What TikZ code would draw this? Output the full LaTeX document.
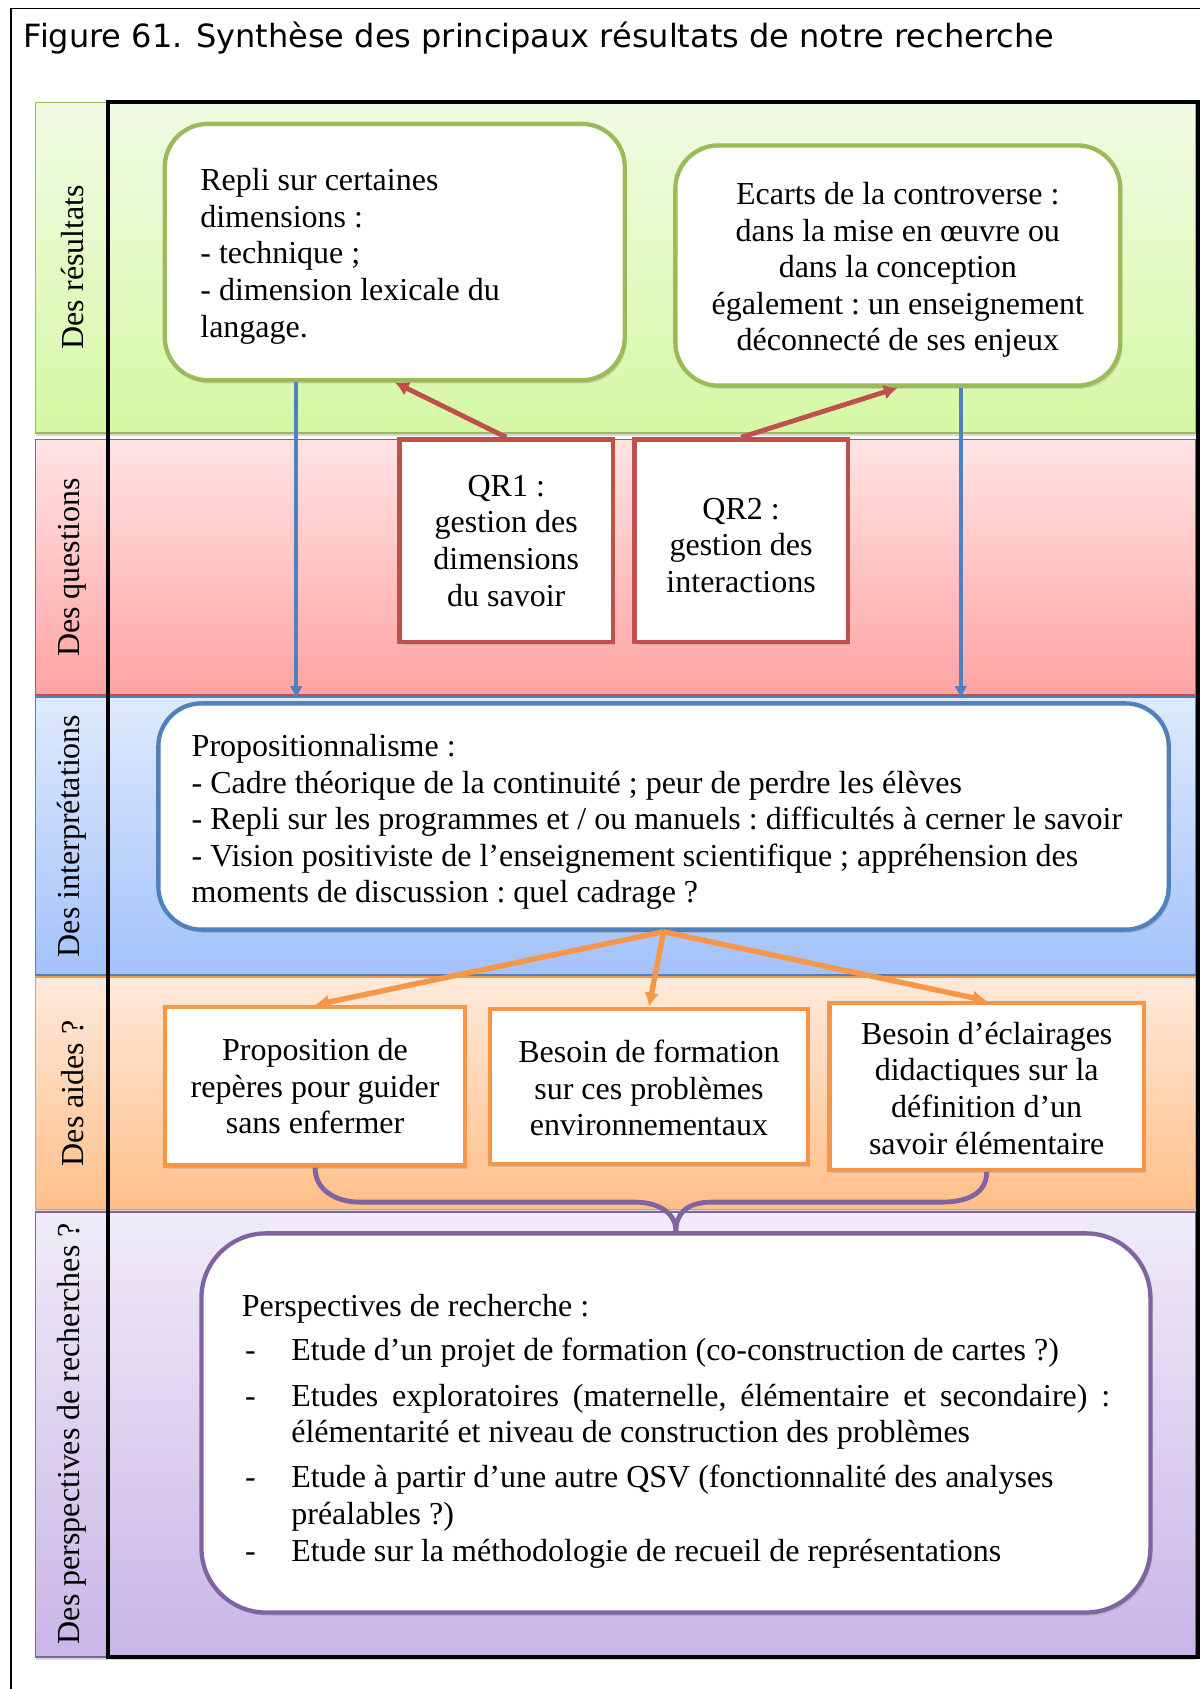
\documentclass[tikz,border=0pt]{standalone}
\usepackage{fontspec}
\setmainfont{Liberation Serif}
\newfontfamily\titlefont{DejaVu Sans}
\usepackage{xcolor}
\usepackage{tikz}
\usetikzlibrary{arrows.meta,positioning,calc,shadows}
\definecolor{grnline}{HTML}{9BBB59}
\definecolor{grntop}{HTML}{F1FBE4}
\definecolor{grnbot}{HTML}{D5F8A4}
\definecolor{redline}{HTML}{C0504D}
\definecolor{redtop}{HTML}{FFE4E4}
\definecolor{redbot}{HTML}{FFA3A3}
\definecolor{bluline}{HTML}{4F81BD}
\definecolor{blutop}{HTML}{DFEAFC}
\definecolor{blubot}{HTML}{A3C2FB}
\definecolor{orgline}{HTML}{F79646}
\definecolor{orgtop}{HTML}{FFEADC}
\definecolor{orgbot}{HTML}{FFBF89}
\definecolor{purline}{HTML}{8064A2}
\definecolor{purtop}{HTML}{F0ECF8}
\definecolor{purbot}{HTML}{C9B5E7}
\newcommand{\lift}[1]{\rule{0pt}{#1}}
\tikzset{
    band/.style={draw=#1line, line width=1.5pt, top color=#1top, bottom color=#1bot,
                 drop shadow={opacity=0.3, shadow xshift=0pt, shadow yshift=-3pt}},
    txt/.style={font=\fontsize{29.7}{34}\selectfont\frenchspacing},
    lbl/.style={txt, rotate=90, inner sep=0pt},
    boxshadow/.style={drop shadow={opacity=0.25, shadow xshift=2pt, shadow yshift=-3pt}},
    resbox/.style={rectangle, draw=grnline, line width=4pt, fill=white, rounded corners=40pt,
                   inner sep=0pt, txt, boxshadow},
    qbox/.style={rectangle, draw=redline, line width=4pt, fill=white, inner sep=0pt,
                 align=center, txt, minimum width=198pt, minimum height=188pt, boxshadow},
    ibox/.style={rectangle, draw=bluline, line width=4pt, fill=white, rounded corners=40pt,
                 inner sep=0pt, txt, boxshadow},
    abox/.style={rectangle, draw=orgline, line width=4pt, fill=white, inner sep=0pt,
                 align=center, txt, boxshadow},
    pbox/.style={rectangle, draw=purline, line width=4pt, fill=white, rounded corners=60pt,
                 inner sep=0pt, txt, boxshadow},
    bluarr/.style={draw=bluline, line width=4pt, -{Latex[length=12pt, width=12pt]}, shorten >=2pt},
    redarr/.style={draw=redline, line width=4.5pt, -{Latex[length=13pt, width=14pt]}},
    orgarr/.style={draw=orgline, line width=5pt, -{Latex[length=13pt, width=14pt]}},
    brace/.style={draw=purline, line width=4.5pt},
}
\begin{document}
\begin{tikzpicture}[x=1pt, y=-1pt]
    \fill[white] (0,0) rectangle (1114,1568);
    \useasboundingbox (0,0) rectangle (1114,1568);
    \draw[line width=1.5pt] (10,1568) -- (10,8) -- (1114,8);
    \node[anchor=base west, inner sep=0pt, font=\titlefont\fontsize{29.7}{34}\selectfont] (titre) at (22,44)
        {Figure 61. Synthèse des principaux résultats de notre recherche};

    \path[band=grn] (33,95) rectangle (1110,402);
    \path[band=red] (33,408) rectangle (1110,645);
    \path[band=blu] (33,647) rectangle (1110,905);
    \path[band=org] (33,907) rectangle (1110,1123);
    \path[band=pur] (33,1125) rectangle (1110,1538);
    \draw[line width=4pt] (100,95) rectangle (1112,1538);

    \node[lbl] (lres) at (67,248) {Des résultats};
    \node[lbl] (lques) at (67,527) {Des questions};
    \node[lbl] (linterp) at (67,776) {Des interprétations};
    \node[lbl] (laide) at (67,1015) {Des aides ?};
    \node[lbl] (lpersp) at (67,1331) {Des perspectives de recherches ?};

    \node[resbox, minimum width=427pt, minimum height=238pt, text width=361pt, align=flush left] (res1) at (366.5,234)
        {\lift{28.5pt}Repli sur certaines\\ dimensions :\\ - technique ;\\ - dimension lexicale du\\ langage.};
    \node[resbox, minimum width=413pt, minimum height=223pt, align=center] (res2) at (833.5,246.5)
        {\lift{29pt}Ecarts de la controverse :\\ dans la mise en œuvre ou\\ dans la conception\\ également : un enseignement\\ déconnecté de ses enjeux};

    \node[qbox] (qr1) at (470,502) {QR1 :\\ gestion des\\ dimensions\\ du savoir};
    \node[qbox, right=16pt of qr1] (qr2) {\lift{28pt}QR2 :\\ gestion des\\ interactions};

    \node[ibox, minimum width=938pt, minimum height=210pt, text width=876pt, align=flush left] (interp) at (616,758)
        {\lift{31pt}Propositionnalisme :\\
         - Cadre théorique de la continuité ; peur de perdre les élèves\\
         - Repli sur les programmes et / ou manuels : difficultés à cerner le savoir\\
         - Vision positiviste de l’enseignement scientifique ; appréhension des\\
         moments de discussion : quel cadrage ?};

    \node[abox, minimum width=279pt, minimum height=147pt] (aide1) at (292.5,1008.5)
        {Proposition de\\ repères pour guider\\ sans enfermer};
    \node[abox, minimum width=295pt, minimum height=144pt, right=19pt of aide1] (aide2)
        {\lift{24pt}Besoin de formation\\ sur ces problèmes\\ environnementaux};
    \node[abox, minimum width=292pt, minimum height=155pt, right=16pt of aide2] (aide3)
        {\lift{24pt}Besoin d’éclairages\\ didactiques sur la\\ définition d’un\\ savoir élémentaire};

    \node[pbox, minimum width=881pt, minimum height=352pt, text width=806pt, align=justify] (persp) at (627.5,1321)
        {\setlength{\parindent}{0pt}\lift{36pt}Perspectives de recherche :\par
         \vspace{7pt}\hangindent=46pt\hangafter=1\makebox[46pt][l]{\hspace{3pt}-}Etude d’un projet de formation (co-construction de cartes ?)\par
         \vspace{8pt}\hangindent=46pt\hangafter=1\makebox[46pt][l]{\hspace{3pt}-}Etudes exploratoires (maternelle, élémentaire et secondaire) :\linebreak élémentarité et niveau de construction des problèmes\par
         \vspace{8pt}\hangindent=46pt\hangafter=1\makebox[46pt][l]{\hspace{3pt}-}Etude à partir d’une autre QSV (fonctionnalité des analyses\newline préalables ?)\par
         \hangindent=46pt\hangafter=1\makebox[46pt][l]{\hspace{3pt}-}Etude sur la méthodologie de recueil de représentations\par};

    \coordinate (bx1) at (275,0);
    \coordinate (bx2) at (892,0);
    \draw[bluarr] (res1.south -| bx1) -- (interp.north -| bx1);
    \draw[bluarr] (res2.south -| bx2) -- (interp.north -| bx2);
    \draw[redarr] (qr1.north) -- (res1.south);
    \draw[redarr] (qr2.north) -- (res2.south);
    \draw[orgarr] (interp.south) -- (aide1.north);
    \draw[orgarr] (interp.south) -- (aide2.north);
    \draw[orgarr] (interp.south) -- (aide3.north);

    \coordinate (brc) at (625,1116);
    \draw[brace] (aide1.south) .. controls ($(aide1.south)+(0,20)$) and ($(aide1.south |- brc)+(18,0)$) .. ($(aide1.south |- brc)+(42,0)$)
        -- ($(brc)+(-36,0)$) .. controls ($(brc)+(-12,0)$) and ($(persp.north)+(0,-16)$) .. (persp.north);
    \draw[brace] (aide3.south) .. controls ($(aide3.south)+(0,20)$) and ($(aide3.south |- brc)+(-18,0)$) .. ($(aide3.south |- brc)+(-42,0)$)
        -- ($(brc)+(36,0)$) .. controls ($(brc)+(12,0)$) and ($(persp.north)+(0,-16)$) .. (persp.north);
\end{tikzpicture}
\end{document}
